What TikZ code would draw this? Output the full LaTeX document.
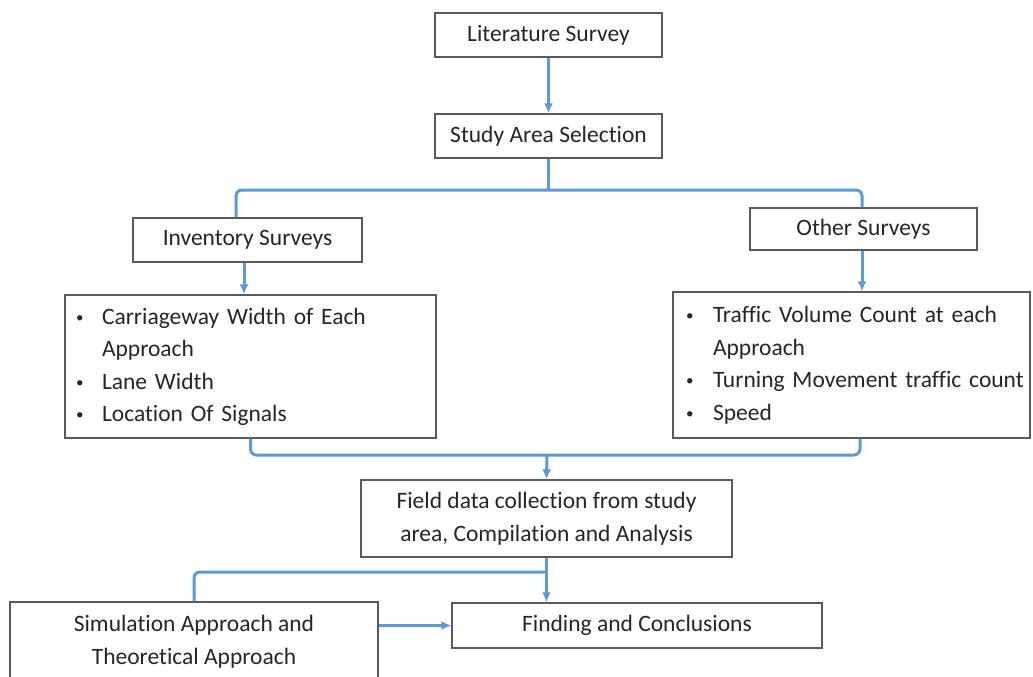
\documentclass[tikz,border=0pt]{standalone}
\usepackage{fontspec}
\setmainfont{Carlito}[Ligatures=NoCommon]
\usetikzlibrary{arrows.meta}
\definecolor{lineblue}{HTML}{5B9BD5}
\definecolor{boxgray}{HTML}{5A5A5A}
\definecolor{txt}{HTML}{262626}
\newcommand{\smallbul}{\raisebox{2pt}{\fontsize{15}{15}\selectfont\textbullet}}
\begin{document}
\begin{tikzpicture}[x=1pt,y=-1pt,
  box/.style={draw=boxgray, line width=1.3pt, fill=white, text=txt,
    font=\fontsize{23.5}{32.5}\selectfont, align=center, inner sep=0pt},
  listbox/.style={box, align=left},
  conn/.style={draw=lineblue, line width=3pt, rounded corners=6pt},
  arr/.style={conn, -{Latex[length=10pt,width=9pt]}}]
\useasboundingbox (0,0) rectangle (1033,677);
\clip (0,0) rectangle (1033,677);
\fill[white] (0,0) rectangle (1033,677);

\node[box, minimum width=227pt, minimum height=44pt] (lit) at (548.5,35) {Literature Survey};
\node[box, minimum width=227pt, minimum height=44pt] (study) at (548.5,136) {Study Area Selection};
\node[box, minimum width=229pt, minimum height=44pt] (inv) at (247.5,240) {Inventory Surveys};
\node[box, minimum width=227pt, minimum height=42pt] (other) at (863.5,229) {Other Surveys};

\node[listbox, minimum width=371pt, minimum height=143pt, text width=349pt] (left) at (250.5,366.5)
  {\noindent\begin{tabular}{@{}p{26pt}@{}l@{}}
   \smallbul & Carriageway Width of Each\\
    & Approach\\
   \smallbul & Lane Width\\
   \smallbul & Location Of Signals
  \end{tabular}};
\node[listbox, minimum width=357pt, minimum height=146pt, text width=331pt] (right) at (851.5,365)
  {\noindent\begin{tabular}{@{}p{27pt}@{}l@{}}
   \smallbul & Traffic Volume Count at each\\
    & Approach\\
   \smallbul & Turning Movement traffic count\\
   \smallbul & Speed
  \end{tabular}};

\node[box, minimum width=371pt, minimum height=77pt] (field) at (546.5,518.5)
  {Field data collection from study\\area, Compilation and Analysis};
\node[box, minimum width=368pt, minimum height=79pt] (sim) at (194,641.5)
  {Simulation Approach and\\Theoretical Approach};
\node[box, minimum width=370pt, minimum height=45pt] (find) at (637,625.5)
  {Finding and Conclusions};

\coordinate (b1) at (548.5,190);
\coordinate (m1) at (547,455);
\coordinate (m2) at (546.5,572);

\draw[arr] (lit) -- (study);
\draw[conn] (study.south) -- (b1);
\draw[conn] ([xshift=-11.5pt]inv.north) |- (b1) -| ([xshift=-1.5pt]other.north);
\draw[arr] ([xshift=-3.5pt]inv.south) -- ([xshift=-3.5pt]inv.south |- left.north);
\draw[arr] ([xshift=-1.5pt]other.south) -- ([xshift=-1.5pt]other.south |- right.north);
\draw[conn] (left.south) |- (m1) -| ([xshift=8.5pt]right.south);
\draw[arr] (m1) -- (field.north);
\draw[arr] (field.south) -- (field.south |- find.north);
\draw[conn] (m2) -| (sim.north);
\draw[arr] (sim.east |- find.west) -- (find.west);
\end{tikzpicture}
\end{document}
